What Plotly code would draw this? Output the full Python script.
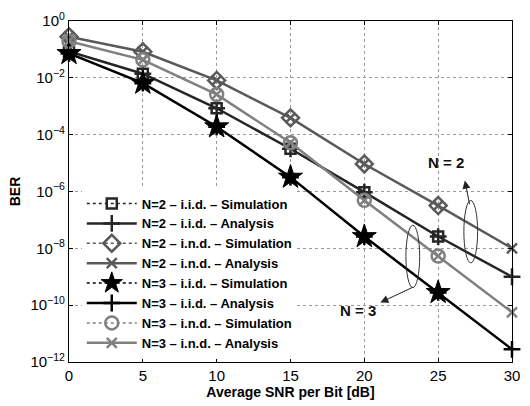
import plotly.graph_objects as go

snr_sim = [0, 5, 10, 15, 20, 25]
snr_ana = [0, 5, 10, 15, 20, 25, 30]

n2_iid_sim = [8.5e-2, 1.4e-2, 8.5e-4, 3.2e-5, 9.5e-7, 2.6e-8]
n2_iid_ana = [8.5e-2, 1.4e-2, 8.5e-4, 3.2e-5, 9.5e-7, 2.6e-8, 1.0e-9]
n2_ind_sim = [2.8e-1, 8.3e-2, 8.1e-3, 3.9e-4, 9.3e-6, 3.2e-7]
n2_ind_ana = [2.8e-1, 8.3e-2, 8.1e-3, 3.9e-4, 9.3e-6, 3.2e-7, 1.0e-8]
n3_iid_sim = [7.2e-2, 6.5e-3, 1.9e-4, 3.2e-6, 2.6e-8, 2.8e-10]
n3_iid_ana = [7.2e-2, 6.5e-3, 1.9e-4, 3.2e-6, 2.6e-8, 2.8e-10, 2.8e-12]
n3_ind_sim = [1.95e-1, 4.3e-2, 2.6e-3, 5.2e-5, 4.9e-7, 5.4e-9]
n3_ind_ana = [1.95e-1, 4.3e-2, 2.6e-3, 5.2e-5, 4.9e-7, 5.4e-9, 5.6e-11]

names = [
    "N=2 – i.i.d. – Simulation", "N=2 – i.i.d. – Analysis",
    "N=2 – i.n.d. – Simulation", "N=2 – i.n.d. – Analysis",
    "N=3 – i.i.d. – Simulation", "N=3 – i.i.d. – Analysis",
    "N=3 – i.n.d. – Simulation", "N=3 – i.n.d. – Analysis",
]

y_tickvals = [1e0, 1e-2, 1e-4, 1e-6, 1e-8, 1e-10, 1e-12]
y_ticktext = ["10<sup>0</sup>", "10<sup>−2</sup>", "10<sup>−4</sup>", "10<sup>−6</sup>",
              "10<sup>−8</sup>", "10<sup>−10</sup>", "10<sup>−12</sup>"]
x_tickvals = [0, 5, 10, 15, 20, 25, 30]

C_N2IID = "#262626"
C_N2IND = "#5a5a5a"
C_N3IID = "#000000"
C_N3IND = "#808080"
FONT = "Liberation Sans, Arial"

fig = go.Figure()

groups = [
    (n2_iid_sim, n2_iid_ana, C_N2IID, dict(symbol="square-open", size=10, line=dict(width=2.5, color=C_N2IID)),
     "cross-thin-open", 12),
    (n2_ind_sim, n2_ind_ana, C_N2IND, dict(symbol="diamond-open", size=13, line=dict(width=2.5, color=C_N2IND)),
     "x-thin-open", 10),
    (n3_iid_sim, n3_iid_ana, C_N3IID, dict(symbol="star", size=18, color=C_N3IID, line=dict(width=1, color=C_N3IID)),
     "cross-thin-open", 12),
    (n3_ind_sim, n3_ind_ana, C_N3IND, dict(symbol="circle-open", size=13, line=dict(width=2.5, color=C_N3IND)),
     "x-thin-open", 10),
]

k = 0
for sim, ana, col, smark, asym, asize in groups:
    fig.add_trace(go.Scatter(
        x=snr_ana, y=ana, mode="lines+markers", name=names[k + 1],
        line=dict(color=col, width=2.5),
        marker=dict(symbol=asym, size=asize, color=col, line=dict(width=2.5, color=col)),
        cliponaxis=False, legendrank=k + 2, legendgroup=names[k + 1],
    ))
    fig.add_trace(go.Scatter(
        x=snr_sim, y=sim, mode="lines+markers", name=names[k],
        line=dict(color=col, width=1.5, dash="dot"),
        marker=smark,
        cliponaxis=False, legendrank=k + 1, legendgroup=names[k],
    ))
    k += 2

fig.add_shape(type="circle", xref="paper", yref="paper",
              x0=(471 - 69) / 451, x1=(485 - 69) / 451,
              y0=(363 - 263) / 344, y1=(363 - 200) / 344,
              line=dict(color="#333333", width=1))
fig.add_shape(type="circle", xref="paper", yref="paper",
              x0=(412 - 69) / 451, x1=(426 - 69) / 451,
              y0=(363 - 288) / 344, y1=(363 - 225) / 344,
              line=dict(color="#333333", width=1))

fig.add_annotation(xref="paper", yref="paper", x=(472 - 69) / 451, y=(363 - 180) / 344,
                   ax=5, ay=25, showarrow=True, arrowhead=2, arrowsize=1.6, arrowwidth=1,
                   arrowcolor="#222222", text="")
fig.add_annotation(xref="paper", yref="paper", x=(386 - 69) / 451, y=(363 - 303) / 344,
                   ax=34, ay=-16, showarrow=True, arrowhead=2, arrowsize=1.6, arrowwidth=1,
                   arrowcolor="#222222", text="")
fig.add_annotation(xref="paper", yref="paper", x=(473 - 69) / 451, y=(363 - 162) / 344,
                   text="<b>N = 2</b>", showarrow=False,
                   font=dict(family=FONT, size=15, color="#111111"))
fig.add_annotation(xref="paper", yref="paper", x=(384 - 69) / 451, y=(363 - 322) / 344,
                   text="<b>N = 3</b>", showarrow=False,
                   font=dict(family=FONT, size=15, color="#111111"))

axis_common = dict(
    showline=True, linecolor="#000000", linewidth=1.2, mirror="ticks",
    ticks="inside", ticklen=4, tickcolor="#000000",
    showgrid=True, gridcolor="#9a9a9a", griddash="dot", gridwidth=1,
    zeroline=False,
    tickfont=dict(family=FONT, size=15, color="#000000"),
)

fig.update_layout(
    width=530, height=406,
    margin=dict(l=69, r=10, t=19, b=43),
    paper_bgcolor="white", plot_bgcolor="white",
    font=dict(family=FONT, color="#000000"),
    xaxis=dict(range=[0, 30], tickvals=x_tickvals,
               title=dict(text="<b>Average SNR per Bit [dB]</b>", standoff=2,
                          font=dict(size=14, family=FONT)),
               **axis_common),
    yaxis=dict(type="log", range=[-12, 0], tickvals=y_tickvals, ticktext=y_ticktext,
               title=dict(text="<b>BER</b>", standoff=6,
                          font=dict(size=14, family=FONT)),
               **axis_common),
    legend=dict(x=(82 - 69) / 451, y=(363 - 188) / 344, xanchor="left", yanchor="top",
                bgcolor="white", borderwidth=0, traceorder="grouped", tracegroupgap=0,
                font=dict(family=FONT, size=13, color="#000000", weight="bold"),
                itemwidth=50),
    showlegend=True,
)

fig.write_html("out.html")
